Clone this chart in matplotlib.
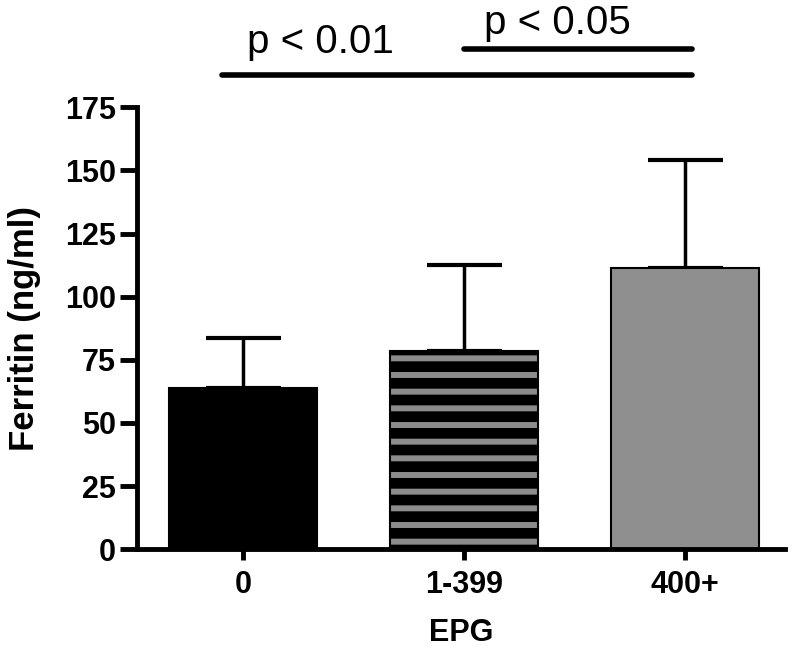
import matplotlib.pyplot as plt
import numpy as np

plt.rcParams['font.family'] = ['Liberation Sans', 'DejaVu Sans']
plt.rcParams['hatch.linewidth'] = 4.3

groups = ['0', '1-399', '400+']
ferritin_mean = [64, 78.4, 111.3]
ferritin_sd = [19.5, 34, 43]
y_ticks = [0, 25, 50, 75, 100, 125, 150, 175]

fig = plt.figure(figsize=(8, 6.5), dpi=100)
ax = fig.add_axes([0.171, 0.155, 0.81, 0.68])

x = np.arange(len(groups))
w = 0.67

# error bars (upper only)
ax.errorbar(x, ferritin_mean, yerr=[np.zeros(3), ferritin_sd], fmt='none',
            ecolor='black', elinewidth=2.5, capsize=27, capthick=3, zorder=1)

ax.bar(x[0], ferritin_mean[0], w, color='black', edgecolor='black', lw=1.5, zorder=2)
ax.bar(x[1], ferritin_mean[1], w, color='black', edgecolor='#8c8c8c',
       hatch='-', lw=0, zorder=2)
ax.bar(x[1], ferritin_mean[1], w, fill=False, edgecolor='black', lw=1.5, zorder=3)
ax.bar(x[2], ferritin_mean[2], w, color='#8f8f8f', edgecolor='black', lw=1.5, zorder=2)

ax.set_xlim(-0.48, 2.45)
ax.set_ylim(0, 175)
ax.set_yticks(y_ticks)
ax.set_xticks(x)
ax.set_xticklabels(groups)
for lab in ax.get_xticklabels() + ax.get_yticklabels():
    lab.set_fontweight('bold')
    lab.set_fontsize(22)

for s in ['top', 'right']:
    ax.spines[s].set_visible(False)
for s in ['left', 'bottom']:
    ax.spines[s].set_linewidth(3.5)
ax.tick_params(axis='both', width=3.5, direction='out')
ax.tick_params(axis='x', length=8, pad=7)
ax.tick_params(axis='y', length=12, pad=3)

ax.set_ylabel('Ferritin (ng/ml)', fontsize=25, fontweight='bold', labelpad=17)
ax.set_xlabel('EPG', fontsize=22, fontweight='bold', labelpad=13)

# significance bars
ax.plot([-0.095, 2.03], [187.6, 187.6], color='black', lw=4,
        solid_capstyle='round', clip_on=False)
ax.plot([1.0, 2.03], [198, 198], color='black', lw=4,
        solid_capstyle='round', clip_on=False)
ax.text(0.35, 193.5, 'p < 0.01', fontsize=29, ha='center', va='bottom', clip_on=False)
ax.text(1.42, 201, 'p < 0.05', fontsize=29, ha='center', va='bottom', clip_on=False)

fig.savefig('out.png', dpi=100)
